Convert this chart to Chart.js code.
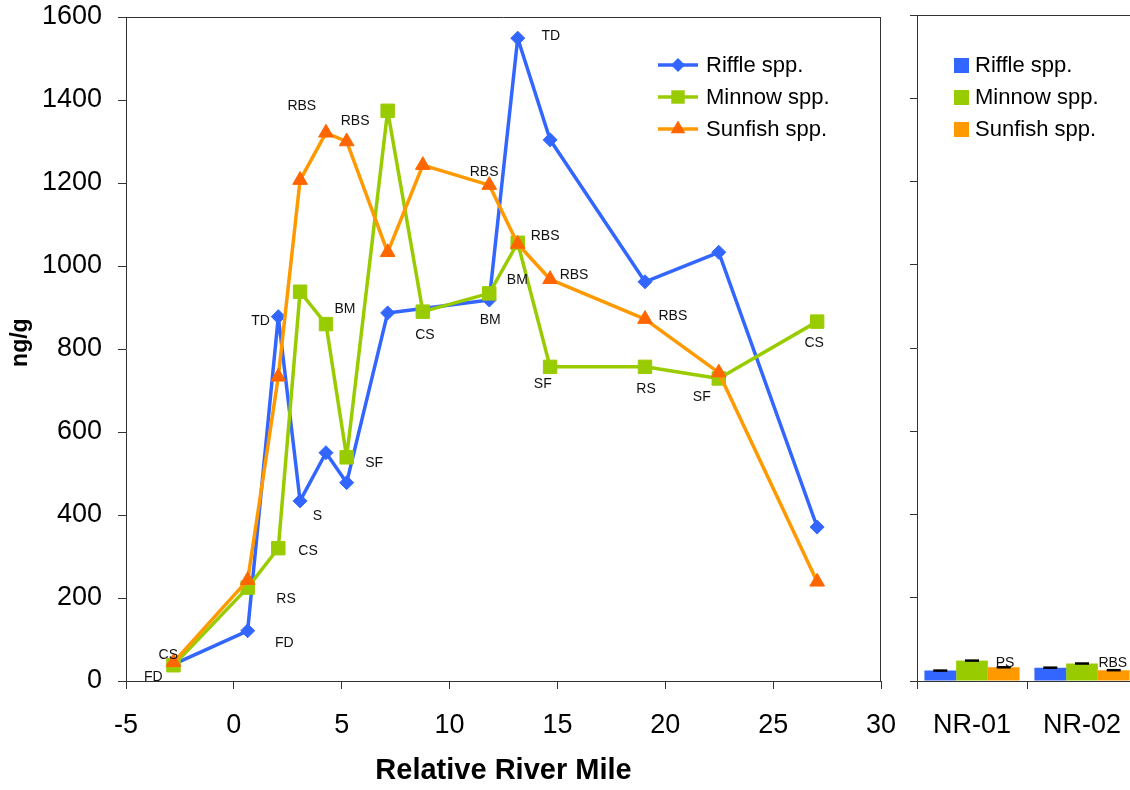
<!DOCTYPE html>
<html><head><meta charset="utf-8">
<script src="https://cdn.jsdelivr.net/npm/chart.js@4/dist/chart.umd.min.js"></script>
<style>
html,body{margin:0;padding:0;background:#fff;overflow:hidden;width:1130px;height:790px}
#l{position:absolute;left:0;top:0;width:900px;height:790px}
#r{position:absolute;left:880px;top:0;width:260px;height:790px}
</style></head><body>
<div id="l"><canvas id="cl"></canvas></div>
<div id="r"><canvas id="cr"></canvas></div>
<script>
// ---- data ----
const riverMile = [-2.8, 0.64, 2.06, 3.07, 4.27, 5.23, 7.13, 8.76, 11.84, 13.16, 14.66, 19.06, 22.48, 27.04];
const riffle  = [40, 121, 878, 434, 550, 478, 887, null, 918, 1549, 1304, 962, 1033, 371];
const minnow  = [38, 225, 320, 938, 860, 539, 1374, 890, 934, 1056, 757, 757, 729, 866];
const sunfish = [45, 243, 733, 1207, 1321, 1300, 1033, 1243, 1195, 1053, 968, 872, 743, 239];
const seriesNames = ['Riffle spp.', 'Minnow spp.', 'Sunfish spp.'];

const siteText = ['CS','FD','RS','FD','TD','BM','CS','SF','S','CS','RBS','RBS','RBS','TD','RBS','BM','BM','RBS','RBS','SF','RS','SF','CS'];
const siteX    = [-3.04,-3.73,2.42,2.34,1.24,5.15,8.86,6.50,3.87,3.44,3.15,5.62,11.60,14.69,14.43,13.14,11.88,15.77,20.35,14.32,19.11,21.69,26.90];
const siteY    = [63,9,198,91,868,896,834,526,398,313,1384,1350,1225,1553,1072,965,870,978,880,716,703,685,814];

const refSites = ['NR-01', 'NR-02'];
const refRiffle  = [25, 32];
const refMinnow  = [49, 42];
const refSunfish = [33, 26];
const refErr     = [1, 1];
const refText = ['PS', 'RBS'];
const refTextX = [0.30, 1.28];
const refTextY = [43, 43];

const yTicksMax = 1600, yStep = 200;
const xMin = -5, xMax = 30, xStep = 5;

// ---- styles ----
const BLUE = '#3366FF', GREEN = '#99CC00', ORANGE = '#FF9900', RED = '#FF6600';
const FONT = "'Liberation Sans', Arial, Helvetica, sans-serif";
Chart.defaults.font.family = FONT;
Chart.defaults.color = '#000';
Chart.defaults.animation = false;

function pts(ys){ return riverMile.map((x,i)=>({x:x, y:ys[i]})); }

function shape(ctx, style, x, y, r){
  ctx.beginPath();
  if (style === 'rectRot'){ ctx.moveTo(x, y-r); ctx.lineTo(x+r, y); ctx.lineTo(x, y+r); ctx.lineTo(x-r, y); }
  else if (style === 'rect'){ const s = r*Math.SQRT1_2; ctx.rect(x-s, y-s, 2*s, 2*s); }
  else if (style === 'triangle'){ const a = r*Math.sin(Math.PI/3); ctx.moveTo(x, y-r); ctx.lineTo(x+a, y+r/2); ctx.lineTo(x-a, y+r/2); }
  ctx.closePath(); ctx.fill();
}

function noPad(s){ s.paddingTop = 0; s.paddingBottom = 0; s.paddingLeft = 0; s.paddingRight = 0; }

const framePlugin = {
  id:'frame',
  afterDraw(chart){
    const {ctx, chartArea:a} = chart;
    ctx.save(); ctx.strokeStyle = '#333'; ctx.lineWidth = 1;
    ctx.beginPath();
    ctx.moveTo(a.left, a.top+0.5); ctx.lineTo(a.right, a.top+0.5);
    ctx.moveTo(a.right-0.5, a.top); ctx.lineTo(a.right-0.5, a.bottom);
    ctx.stroke(); ctx.restore();
  }
};

const lineLegend = {
  id:'lineLegend',
  afterDraw(chart){
    const ctx = chart.ctx;
    chart.data.datasets.forEach((ds,i)=>{
      const y = 65 + i*32;
      ctx.save();
      ctx.strokeStyle = ds.borderColor; ctx.lineWidth = ds.borderWidth;
      ctx.beginPath(); ctx.moveTo(658, y); ctx.lineTo(698, y); ctx.stroke();
      ctx.fillStyle = ds.pointBackgroundColor;
      shape(ctx, ds.pointStyle, 678, y, ds.pointRadius);
      ctx.fillStyle = '#000'; ctx.font = '22px ' + FONT;
      ctx.textAlign = 'left'; ctx.textBaseline = 'middle';
      ctx.fillText(ds.label, 706, y+1);
      ctx.restore();
    });
  }
};

const siteLabels = {
  id:'siteLabels',
  afterDatasetsDraw(chart){
    const ctx = chart.ctx, xs = chart.scales.x, ys = chart.scales.y;
    ctx.save(); ctx.fillStyle = '#111'; ctx.font = '14px ' + FONT;
    ctx.textAlign = 'center'; ctx.textBaseline = 'middle';
    siteText.forEach((t,i)=>{ ctx.fillText(t, xs.getPixelForValue(siteX[i]), ys.getPixelForValue(siteY[i])); });
    ctx.restore();
  }
};

const plainNum = v => String(v);

new Chart(document.getElementById('cl'), {
  type:'line',
  data:{ datasets:[
    {label:seriesNames[0], data:pts(riffle), borderColor:BLUE, backgroundColor:BLUE, pointBackgroundColor:BLUE, pointBorderColor:BLUE, pointBorderWidth:1, pointStyle:'rectRot', pointRadius:7, borderWidth:3.5, borderJoinStyle:'round', spanGaps:true, order:2},
    {label:seriesNames[1], data:pts(minnow), borderColor:GREEN, backgroundColor:GREEN, pointBackgroundColor:GREEN, pointBorderColor:GREEN, pointBorderWidth:1, pointStyle:'rect', pointRadius:9.5, borderWidth:3.5, borderJoinStyle:'round', order:1},
    {label:seriesNames[2], data:pts(sunfish), borderColor:ORANGE, backgroundColor:RED, pointBackgroundColor:RED, pointBorderColor:RED, pointBorderWidth:1, pointStyle:'triangle', pointRadius:8.5, borderWidth:3.5, borderJoinStyle:'round', order:0}
  ]},
  options:{
    responsive:true, maintainAspectRatio:false,
    layout:{padding:{left:0, top:17, right:19, bottom:0}},
    plugins:{legend:{display:false}, tooltip:{enabled:false}},
    scales:{
      x:{type:'linear', min:xMin, max:xMax,
         ticks:{stepSize:xStep, font:{size:27}, padding:20, color:'#000', callback:plainNum},
         grid:{drawOnChartArea:false, drawTicks:true, tickLength:8, color:'#333'},
         border:{color:'#333', width:1},
         title:{display:true, text:'Relative River Mile', font:{size:29, weight:'bold'}, color:'#000', padding:{top:0, bottom:2}},
         afterFit(s){ s.height = 109; noPad(s); }},
      y:{min:0, max:yTicksMax,
         ticks:{stepSize:yStep, font:{size:27}, padding:16, color:'#000', callback:plainNum},
         grid:{drawOnChartArea:false, drawTicks:true, tickLength:8, color:'#333'},
         border:{color:'#333', width:1},
         title:{display:true, text:'  ng/g', font:{size:23, weight:'bold'}, color:'#000', padding:{top:7, bottom:0}},
         afterFit(s){ s.width = 126; noPad(s); }}
    }
  },
  plugins:[framePlugin, lineLegend, siteLabels]
});

const barLegend = {
  id:'barLegend',
  afterDraw(chart){
    const ctx = chart.ctx;
    chart.data.datasets.forEach((ds,i)=>{
      const y = 65 + i*32;
      ctx.save();
      ctx.fillStyle = ds.backgroundColor; ctx.fillRect(74, y-7, 15, 15);
      ctx.fillStyle = '#000'; ctx.font = '22px ' + FONT;
      ctx.textAlign = 'left'; ctx.textBaseline = 'middle';
      ctx.fillText(ds.label, 95, y+1);
      ctx.restore();
    });
  }
};

const errCaps = {
  id:'errCaps',
  afterDatasetsDraw(chart){
    const ctx = chart.ctx, ys = chart.scales.y;
    ctx.save(); ctx.fillStyle = '#000';
    chart.data.datasets.forEach((ds,di)=>{
      chart.getDatasetMeta(di).data.forEach((el,i)=>{
        const v = ds.data[i], e = refErr[i];
        const top = ys.getPixelForValue(v+e), bot = ys.getPixelForValue(v-e);
        const h = Math.max(2.5, bot-top);
        ctx.fillRect(el.x-7, (top+bot)/2 - h/2, 14, h);
      });
    });
    ctx.restore();
  }
};

const refLabels = {
  id:'refLabels',
  afterDatasetsDraw(chart){
    const ctx = chart.ctx, xs = chart.scales.x, ys = chart.scales.y;
    ctx.save(); ctx.fillStyle = '#111'; ctx.font = '14px ' + FONT;
    ctx.textAlign = 'center'; ctx.textBaseline = 'middle';
    refText.forEach((t,i)=>{ ctx.fillText(t, xs.getPixelForValue(refTextX[i]), ys.getPixelForValue(refTextY[i])); });
    ctx.restore();
  }
};

new Chart(document.getElementById('cr'), {
  type:'bar',
  data:{ labels:refSites, datasets:[
    {label:seriesNames[0], data:refRiffle, backgroundColor:BLUE},
    {label:seriesNames[1], data:refMinnow, backgroundColor:GREEN},
    {label:seriesNames[2], data:refSunfish, backgroundColor:ORANGE}
  ]},
  options:{
    responsive:true, maintainAspectRatio:false,
    layout:{padding:{left:0, top:15, right:3, bottom:0}},
    plugins:{legend:{display:false}, tooltip:{enabled:false}},
    datasets:{bar:{categoryPercentage:0.865, barPercentage:1.0}},
    scales:{
      x:{type:'category', offset:true,
         ticks:{font:{size:27}, padding:20, color:'#000'},
         grid:{offset:true, drawOnChartArea:false, drawTicks:true, tickLength:8, color:'#333'},
         border:{color:'#333', width:1},
         afterFit(s){ s.height = 109; noPad(s); }},
      y:{min:0, max:yTicksMax,
         ticks:{stepSize:yStep, font:{size:8}, color:'rgba(0,0,0,0)'},
         grid:{drawOnChartArea:false, drawTicks:true, tickLength:7, color:'#333'},
         border:{color:'#333', width:1},
         afterFit(s){ s.width = 37; noPad(s); }}
    }
  },
  plugins:[framePlugin, barLegend, errCaps, refLabels]
});
</script>
</body></html>
